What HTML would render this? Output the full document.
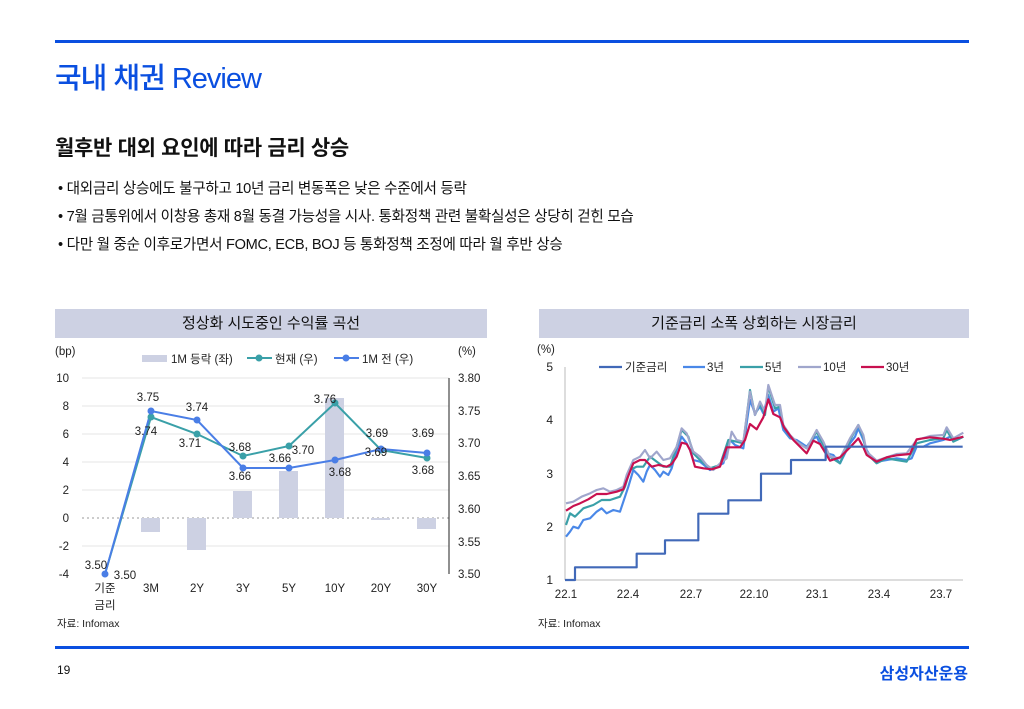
<!DOCTYPE html>
<html><head><meta charset="utf-8">
<style>
body{margin:0;width:1024px;height:709px;background:#fff;position:relative;overflow:hidden;font-family:"Liberation Sans","Noto Sans CJK KR",sans-serif;color:#111}
.a{position:absolute;white-space:nowrap}
.bar{position:absolute;height:3px;background:#0a4fe0}
.hd{position:absolute;height:29px;background:#cdd1e3;font-size:15px;text-align:center;line-height:29px;top:309px}
svg{position:absolute;left:0;top:0}
</style></head><body>
<div class="bar" style="left:55px;top:40px;width:914px"></div>
<div class="a" style="left:55px;top:55px;font-size:29px;color:#0a4fe0;letter-spacing:-1px;font-weight:500">국내 채권 Review</div>
<div class="a" style="left:55px;top:132px;font-size:21px;font-weight:bold;letter-spacing:-0.3px">월후반 대외 요인에 따라 금리 상승</div>
<div class="a" style="left:58px;top:177px;font-size:14.6px;letter-spacing:-0.3px">• 대외금리 상승에도 불구하고 10년 금리 변동폭은 낮은 수준에서 등락</div>
<div class="a" style="left:58px;top:205px;font-size:14.6px;letter-spacing:-0.3px">• 7월 금통위에서 이창용 총재 8월 동결 가능성을 시사. 통화정책 관련 불확실성은 상당히 걷힌 모습</div>
<div class="a" style="left:58px;top:233px;font-size:14.6px;letter-spacing:-0.3px">• 다만 월 중순 이후로가면서 FOMC, ECB, BOJ 등 통화정책 조정에 따라 월 후반 상승</div>
<div class="hd" style="left:55px;width:432px">정상화 시도중인 수익률 곡선</div>
<div class="hd" style="left:539px;width:430px">기준금리 소폭 상회하는 시장금리</div>

<svg width="1024" height="709" font-family="Liberation Sans, Noto Sans CJK KR, sans-serif" font-size="11.5" fill="#222">
<g stroke="#e4e4e4" stroke-width="1">
<line x1="82" y1="378" x2="449" y2="378"/><line x1="82" y1="406" x2="449" y2="406"/><line x1="82" y1="434" x2="449" y2="434"/><line x1="82" y1="462" x2="449" y2="462"/><line x1="82" y1="490" x2="449" y2="490"/><line x1="82" y1="546" x2="449" y2="546"/>
</g>
<line x1="82" y1="518" x2="449" y2="518" stroke="#999" stroke-dasharray="2,3"/>
<line x1="449" y1="378" x2="449" y2="574" stroke="#222"/>
<g fill="#cdd1e3">
<rect x="141" y="518" width="19" height="14"/><rect x="187" y="518" width="19" height="32"/><rect x="233" y="491" width="19" height="27"/><rect x="279" y="471" width="19" height="47"/><rect x="325" y="398" width="19" height="120"/><rect x="371" y="518" width="19" height="2"/><rect x="417" y="518" width="19" height="11"/>
</g>
<polyline points="105,574 151,417 197,434 243,456 289,446 335,403 381,450 427,458" fill="none" stroke="#3aa0a8" stroke-width="2"/>
<polyline points="105,574 151,411 197,420 243,468 289,468 335,460 381,449 427,453" fill="none" stroke="#4a7ee6" stroke-width="2"/>
<g fill="#3aa0a8"><circle cx="151" cy="417" r="3.5"/><circle cx="197" cy="434" r="3.5"/><circle cx="243" cy="456" r="3.5"/><circle cx="289" cy="446" r="3.5"/><circle cx="335" cy="403" r="3.5"/><circle cx="381" cy="450" r="3.5"/><circle cx="427" cy="458" r="3.5"/></g>
<g fill="#4a7ee6"><circle cx="105" cy="574" r="3.5"/><circle cx="151" cy="411" r="3.5"/><circle cx="197" cy="420" r="3.5"/><circle cx="243" cy="468" r="3.5"/><circle cx="289" cy="468" r="3.5"/><circle cx="335" cy="460" r="3.5"/><circle cx="381" cy="449" r="3.5"/><circle cx="427" cy="453" r="3.5"/></g>
<g text-anchor="end"><text x="69" y="382">10</text><text x="69" y="410">8</text><text x="69" y="438">6</text><text x="69" y="466">4</text><text x="69" y="494">2</text><text x="69" y="522">0</text><text x="69" y="550">-2</text><text x="69" y="578">-4</text></g>
<g><text x="458" y="382">3.80</text><text x="458" y="415">3.75</text><text x="458" y="447">3.70</text><text x="458" y="480">3.65</text><text x="458" y="513">3.60</text><text x="458" y="546">3.55</text><text x="458" y="578">3.50</text></g>
<text x="55" y="355">(bp)</text><text x="458" y="355">(%)</text>
<rect x="142" y="355" width="25" height="7" fill="#cdd1e3"/><text x="171" y="363">1M 등락 (좌)</text>
<line x1="247" y1="358" x2="272" y2="358" stroke="#3aa0a8" stroke-width="2"/><circle cx="259" cy="358" r="3.5" fill="#3aa0a8"/><text x="275" y="363">현재 (우)</text>
<line x1="334" y1="358" x2="359" y2="358" stroke="#4a7ee6" stroke-width="2"/><circle cx="346" cy="358" r="3.5" fill="#4a7ee6"/><text x="362" y="363">1M 전 (우)</text>
<g text-anchor="middle">
<text x="96" y="569">3.50</text><text x="125" y="579">3.50</text>
<text x="148" y="401">3.75</text><text x="146" y="435">3.74</text>
<text x="197" y="411">3.74</text><text x="190" y="447">3.71</text>
<text x="240" y="451">3.68</text><text x="240" y="480">3.66</text>
<text x="280" y="462">3.66</text><text x="303" y="454">3.70</text>
<text x="325" y="403">3.76</text><text x="340" y="476">3.68</text>
<text x="377" y="437">3.69</text><text x="376" y="456">3.69</text>
<text x="423" y="437">3.69</text><text x="423" y="474">3.68</text>
<text x="105" y="592">기준</text><text x="105" y="609">금리</text>
<text x="151" y="592">3M</text><text x="197" y="592">2Y</text><text x="243" y="592">3Y</text><text x="289" y="592">5Y</text><text x="335" y="592">10Y</text><text x="381" y="592">20Y</text><text x="427" y="592">30Y</text>
</g>
<text x="57" y="627" font-size="10.5">자료: Infomax</text>

<line x1="565" y1="367" x2="565" y2="580" stroke="#bbb"/>
<line x1="565" y1="580" x2="963" y2="580" stroke="#bbb"/>
<g text-anchor="end" font-size="12"><text x="553" y="371">5</text><text x="553" y="424">4</text><text x="553" y="478">3</text><text x="553" y="531">2</text><text x="553" y="584">1</text></g>
<text x="537" y="353">(%)</text>
<g text-anchor="middle"><text x="566" y="598">22.1</text><text x="628" y="598">22.4</text><text x="691" y="598">22.7</text><text x="754" y="598">22.10</text><text x="817" y="598">23.1</text><text x="879" y="598">23.4</text><text x="941" y="598">23.7</text></g>
<g stroke-width="2.3">
<line x1="599" y1="367" x2="622" y2="367" stroke="#4169b8"/><line x1="683" y1="367" x2="705" y2="367" stroke="#4a88e8"/><line x1="740" y1="367" x2="763" y2="367" stroke="#3aa0a8"/><line x1="798" y1="367" x2="821" y2="367" stroke="#a0a6cc"/><line x1="861" y1="367" x2="884" y2="367" stroke="#c8104f"/>
</g>
<text x="625" y="371">기준금리</text><text x="707" y="371">3년</text><text x="765" y="371">5년</text><text x="823" y="371">10년</text><text x="886" y="371">30년</text>
<g transform="translate(530,340) scale(0.33333)" fill="none" stroke-width="6.5" stroke-linejoin="round">
<polyline stroke="#4a88e8" points="108,590 120,575 130,560 145,565 160,540 180,535 200,515 215,505 230,520 250,510 270,515 285,470 295,440 310,390 325,405 340,425 350,395 360,375 375,390 390,410 400,395 415,405 425,385 440,330 455,290 470,310 480,330 490,360 510,365 540,390 560,380 580,370 600,300 615,315 640,325 650,250 660,180 675,220 690,200 700,220 715,165 730,215 745,205 760,270 780,295 800,300 815,310 830,320 845,300 860,290 875,320 890,340 910,345 930,370 945,340 960,310 975,290 985,265 1000,300 1010,330 1025,355 1040,365 1070,360 1100,355 1130,360 1145,355 1160,320 1180,320 1200,310 1240,300 1260,290 1280,300 1300,290"/>
<polyline stroke="#3aa0a8" points="108,555 120,520 135,530 160,505 190,495 215,480 240,480 270,470 285,440 300,390 320,380 340,380 360,350 380,365 400,380 420,380 440,320 455,270 475,290 490,340 510,360 540,385 570,375 595,300 620,305 640,310 660,150 675,225 690,190 705,225 715,140 735,205 750,200 760,260 780,290 800,305 830,325 860,275 880,315 900,350 930,370 960,300 985,255 1000,290 1010,340 1040,370 1070,355 1100,360 1130,365 1160,310 1200,300 1240,295 1250,270 1270,305 1300,290"/>
<polyline stroke="#a0a6cc" points="108,490 130,485 155,470 180,460 200,450 220,445 240,455 260,450 280,440 290,405 310,360 330,350 345,330 360,355 380,335 400,360 420,355 440,320 455,265 470,280 490,335 510,350 530,375 550,390 570,370 590,355 605,275 620,300 640,305 660,155 675,225 690,185 705,215 715,135 735,195 750,195 760,255 780,285 800,305 830,325 860,270 880,305 900,350 930,355 960,295 985,255 1000,285 1010,335 1040,362 1070,352 1100,342 1130,340 1160,300 1200,288 1240,285 1250,262 1270,295 1300,278"/>
<polyline stroke="#c8104f" points="108,512 130,498 150,490 175,478 200,462 230,462 260,455 280,448 290,420 310,370 330,360 345,360 365,380 385,375 410,380 425,372 440,350 455,308 470,312 480,330 495,380 520,385 545,388 570,380 590,322 610,322 630,322 645,300 660,252 680,268 700,232 715,178 730,222 750,232 762,262 790,300 830,340 850,302 870,312 900,362 930,352 960,322 985,295 1000,322 1010,345 1040,365 1070,352 1100,346 1140,342 1160,298 1200,292 1240,296 1260,300 1300,290"/>
<polyline stroke="#4169b8" points="105,720 135,720 135,682 320,682 320,641 405,641 405,601 505,601 505,521 595,521 595,481 693,481 693,401 783,401 783,360 887,360 887,320 1298,320"/>
</g>
<text x="538" y="627" font-size="10.5">자료: Infomax</text>
</svg>
<div class="bar" style="left:55px;top:646px;width:914px"></div>
<div class="a" style="left:57px;top:663px;font-size:12px">19</div>
<div class="a" style="right:56px;top:660px;font-size:16px;font-weight:bold;color:#0a4fe0">삼성자산운용</div>
</body></html>
